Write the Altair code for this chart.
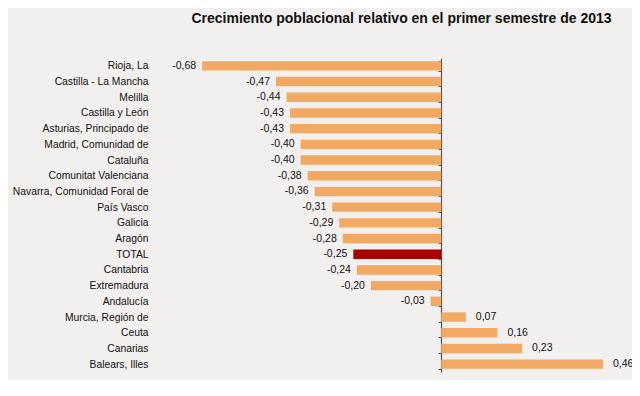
import altair as alt
import pandas as pd

categories = [
    "Rioja, La", "Castilla - La Mancha", "Melilla", "Castilla y León",
    "Asturias, Principado de", "Madrid, Comunidad de", "Cataluña",
    "Comunitat Valenciana", "Navarra, Comunidad Foral de", "País Vasco",
    "Galicia", "Aragón", "TOTAL", "Cantabria", "Extremadura", "Andalucía",
    "Murcia, Región de", "Ceuta", "Canarias", "Balears, Illes",
]
values = [
    -0.68, -0.47, -0.44, -0.43, -0.43, -0.40, -0.40, -0.38, -0.36, -0.31,
    -0.29, -0.28, -0.25, -0.24, -0.20, -0.03, 0.07, 0.16, 0.23, 0.46,
]
highlight = "TOTAL"

df = pd.DataFrame({"region": categories, "value": values})
df["label"] = [f"{v:.2f}".replace(".", ",") for v in values]

FONT = "Liberation Sans"

base = alt.Chart(df).encode(
    y=alt.Y(
        "region:N",
        sort=categories,
        scale=alt.Scale(paddingInner=0.4, paddingOuter=0.2),
        axis=alt.Axis(
            title=None, orient="left", offset=-274,
            domainColor="#555555", domainWidth=1.2,
            tickColor="#555555", tickSize=3, tickBand="extent",
            labelPadding=290, labelFont=FONT, labelFontSize=10.3,
            labelColor="#111111", labelLimit=300,
        ),
    ),
    x=alt.X("value:Q", scale=alt.Scale(domain=[-0.78, 0.52], nice=False, zero=False), axis=None),
)

bars = base.mark_bar().encode(
    color=alt.condition(
        alt.datum.region == highlight, alt.value("#a80000"), alt.value("#f2a963")
    )
)

neg = base.transform_filter("datum.value < 0").mark_text(
    align="right", baseline="middle", dx=-6, font=FONT, fontSize=10.5, color="#111111"
).encode(text="label:N")

pos = base.transform_filter("datum.value >= 0").mark_text(
    align="left", baseline="middle", dx=10, font=FONT, fontSize=10.5, color="#111111"
).encode(text="label:N")

chart = alt.layer(bars, neg, pos).properties(
    width=457,
    height=314,
    autosize=alt.AutoSizeParams(type="none"),
    padding={"left": 159, "top": 50, "right": 8, "bottom": 8},
    background="#f1f0ee",
    title=alt.TitleParams(
        "Crecimiento poblacional relativo en el primer semestre de 2013",
        font=FONT, fontSize=14, fontWeight="bold", color="#111111",
        anchor="middle", offset=27, dx=6,
    ),
).configure_view(stroke=None)

chart.save("out.html", embed_options={"renderer": "svg", "actions": False})
